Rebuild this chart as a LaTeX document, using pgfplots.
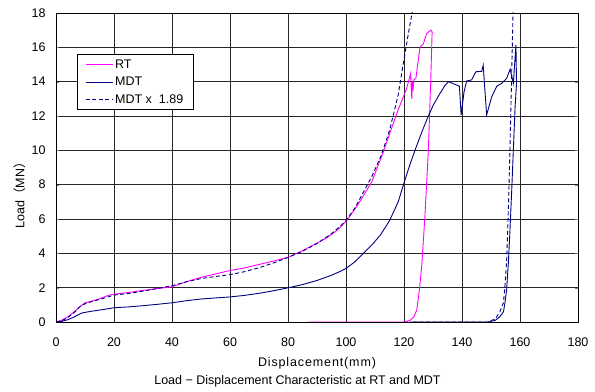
\documentclass[border=0pt]{standalone}
\usepackage{fontspec}
\setmainfont{Liberation Sans}
\newfontfamily\cjk{Noto Sans CJK JP}
\usepackage{pgfplots}
\pgfplotsset{compat=1.18}
\definecolor{mdt}{RGB}{0,0,128}
\definecolor{rt}{RGB}{255,0,255}
\begin{document}
\begin{tikzpicture}
\begin{axis}[
  scale only axis,
  width=522bp, height=309bp,
  xmin=0, xmax=180, ymin=0, ymax=18,
  xtick={0,20,...,180}, ytick={0,2,...,18},
  /pgf/number format/assume math mode=true,
  tick label style={font=\fontsize{12.5bp}{14bp}\selectfont},
  xticklabel style={anchor=base, yshift=-24bp},
  yticklabel style={anchor=east, xshift=-7bp},
  tick align=inside, major tick length=3bp,
  xtick style={draw=none},
  grid=major,
  major grid style={black!85, line width=0.8bp},
  axis line style={black, line width=0.8bp},
  xlabel={\addfontfeature{LetterSpace=7}Displacement(mm)},
  ylabel={Load{\cjk （}MN{\cjk ）}},
  label style={font=\fontsize{12.5bp}{14bp}\selectfont},
  xlabel style={at={(axis description cs:0.5,0)}, anchor=base, yshift=-44.5bp},
  ylabel style={at={(axis description cs:-0.0699,0.42)}, anchor=center},
  legend style={at={(0.040,0.867)}, anchor=north west, draw=black, line width=0.8bp,
    fill=white, font=\fontsize{12.5bp}{14bp}\selectfont, inner xsep=8bp, inner ysep=3bp,
    row sep=3.5bp, cells={anchor=west}},
  legend image code/.code={\draw[#1] (3bp,0bp) -- (30bp,0bp);},
  clip=true,
]
\addplot[rt, line width=0.9bp] coordinates {
(0,0) (2,0.1) (4,0.3) (6,0.55) (8,0.85) (10,1.12) (12,1.2) (15,1.35) (18,1.55)
(20,1.62) (25,1.72) (30,1.84) (35,1.95) (40,2.05) (45,2.35) (50,2.6) (55,2.8)
(60,3.0) (65,3.15) (70,3.35) (75,3.55) (80,3.77) (85,4.15) (90,4.6) (93.3,4.9)
(97,5.35) (100.2,5.9) (104,6.8) (108.9,8.17) (112.9,9.92) (117.5,12.15)
(120.9,13.6) (122.3,14.48) (122.5,13.6) (122.7,13.0) (122.9,14.0) (123.1,13.5)
(123.4,14.1) (124.1,14.2) (125.5,16.0) (126.7,16.2) (127.2,16.5) (127.8,16.8)
(128.5,16.9) (129.2,17.0) (129.7,16.9) (129.2,14.0) (128.4,10.0) (127.2,6.13)
(126.1,3.22) (125.3,1.86) (124.4,0.7) (123.4,0.3) (122.1,0.1) (120.3,0) (87,0)
};
\addlegendentry{RT}
\addplot[mdt, line width=0.9bp] coordinates {
(0,0) (2,0.04) (4,0.13) (6,0.27) (8,0.45) (9,0.53) (12,0.62) (16,0.72) (20,0.83)
(25,0.88) (30,0.95) (35,1.03) (40,1.12) (45,1.24) (50,1.34) (55,1.40) (60,1.46)
(65,1.55) (70,1.67) (75,1.82) (80,1.99) (85,2.18) (90,2.42) (95,2.72) (98,2.95)
(100,3.12) (103,3.5) (106,4.0) (109,4.5) (112,5.1) (115,5.9) (118,7.0) (120,8.1)
(122,9.15) (124,10.1) (126,11.0) (128,11.85) (130,12.6) (132,13.2) (134,13.75)
(135.3,14.0) (139.1,13.74) (139.7,12.06) (140.7,13.4) (141.6,14.04) (143.3,14.1)
(144.8,14.58) (146.8,14.6) (147.3,14.96) (148.5,12.06) (150.2,13.1) (152,13.74)
(153.7,13.9) (155.4,14.19) (156.6,14.73) (157.7,13.9) (158.6,16.13) (158.8,13.9)
(158.3,12.5) (157.7,10.0) (157.1,7.5) (156.5,5.2) (156,3.5) (155.4,1.9)
(154.8,1.1) (154.3,0.6) (153,0.3) (151.5,0.1) (149,0) (122,0)
};
\addlegendentry{MDT}
\addplot[mdt, line width=0.9bp, dash pattern=on 4bp off 2.5bp] coordinates {
(0,0) (2,0.08) (4,0.25) (6,0.51) (8,0.85) (9,1.00) (12,1.17) (16,1.36) (20,1.57)
(25,1.66) (30,1.80) (35,1.95) (40,2.12) (45,2.34) (50,2.53) (55,2.65) (60,2.76)
(65,2.93) (70,3.16) (75,3.44) (80,3.76) (85,4.12) (90,4.57) (95,5.14) (98,5.58)
(100,5.90) (103,6.62) (106,7.56) (109,8.51) (112,9.64) (115,11.15) (118,13.23)
(120,15.31) (122,17.29) (124,19.09) (126,20.79) (128,22.40) (130,23.81)
(132,24.95) (134,25.99) (135.3,26.46) (139.1,25.97) (139.7,22.79) (140.7,25.33)
(141.6,26.54) (143.3,26.65) (144.8,27.56) (146.8,27.59) (147.3,28.27)
(148.5,22.79) (150.2,24.76) (152,25.97) (153.7,26.27) (155.4,26.82)
(156.6,27.84) (157.7,26.27) (158.6,30.49) (158.8,26.27) (158.3,23.63)
(157.7,18.90) (157.1,14.18) (156.5,9.83) (156,6.62) (155.4,3.59) (154.8,2.08)
(154.3,1.13) (153,0.57) (151.5,0.19) (149,0) (122,0)
};
\addlegendentry{MDT x\ \ 1.89}
\end{axis}
\node[font=\fontsize{12.5bp}{14bp}\selectfont, anchor=base] at (241.5bp,-62bp)
  {Load − Displacement Characteristic at RT and MDT};
\pgfresetboundingbox
\path[use as bounding box] (-56bp,-70bp) rectangle (539bp,322bp);
\end{tikzpicture}
\end{document}
